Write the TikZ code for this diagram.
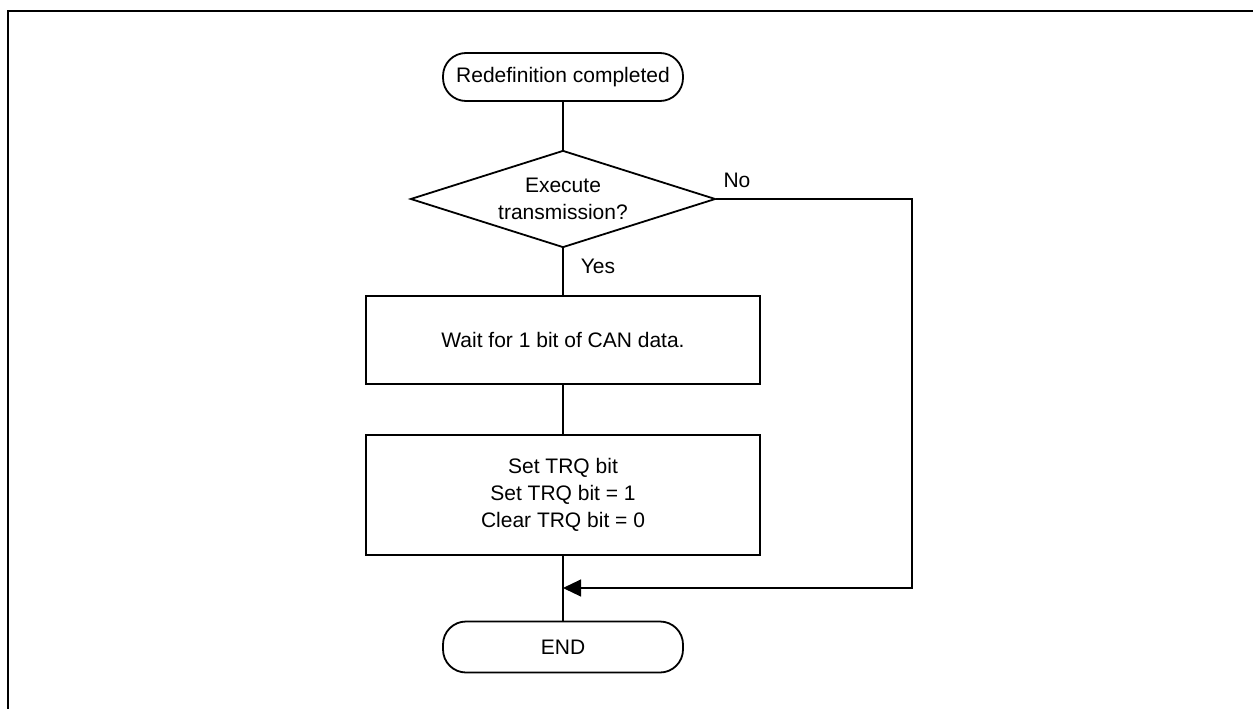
\documentclass[tikz,border=0pt]{standalone}
\usepackage{fontspec}
\setmainfont{Liberation Sans}
\usetikzlibrary{shapes.geometric,arrows.meta}

\begin{document}
\begin{tikzpicture}[
x=1pt, y=-1pt,
every node/.style={font=\fontsize{21pt}{27pt}\selectfont},
term/.style={draw, line width=1.8pt, rounded corners=23pt, minimum width=240pt,
minimum height=48pt, inner sep=0pt},
proc/.style={draw, line width=1.8pt, align=center, minimum width=394pt, inner sep=0pt},
decide/.style={draw, diamond, line width=1.8pt, align=center, aspect=3.14,
minimum width=305pt, minimum height=97pt, inner sep=0pt},
flow/.style={line width=1.1pt},
edge/.style={flow, -{Triangle[length=18pt, width=17pt]}}
]
\useasboundingbox (0,0) rectangle (1253,709);
\draw[line width=2.6pt] (8,709) -- (8,11) -- (1253,11);

\node[term] (start) at (563,77) {Redefinition completed};
\node[decide] (cond) at (563,199) {Execute\\transmission?};
\node[proc, minimum height=88pt] (wait) at (563,340) {Wait for 1 bit of CAN data.};
\node[proc, minimum height=120pt] (settrq) at (563,495) {Set TRQ bit\\Set TRQ bit = 1\\Clear TRQ bit = 0};
\node[term, minimum height=51pt] (stop) at (563,647) {END};
\coordinate (bypass) at (912,199);
\coordinate (join) at (563,588);

\draw[flow] (start) -- (cond);
\draw[flow] (cond) -- (wait);
\draw[flow] (wait) -- (settrq);
\draw[flow] (settrq) -- (stop);
\draw[edge] (cond.east) -- (bypass) |- (join);
\node at (737,180) {No};
\node at (598,266) {Yes};
\end{tikzpicture}
\end{document}
